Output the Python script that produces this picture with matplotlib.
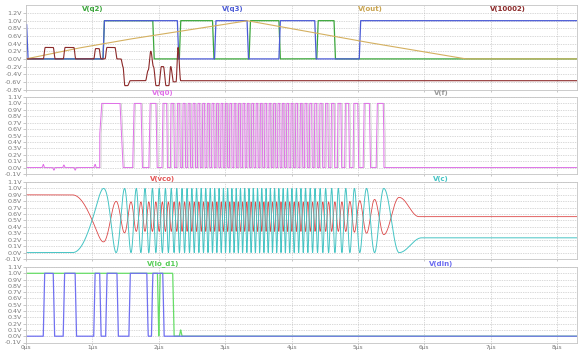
import numpy as np
import matplotlib
matplotlib.use("Agg")
import matplotlib.pyplot as plt

T_END = 8.3          # µs shown on the x axis
t = np.linspace(0, T_END, 30000)

# ---- pane 1 : divider outputs, ramp and control node ----
q2_spans = [(1.16, 1.91, 1.0), (2.31, 2.81, 1.0), (3.36, 3.81, 1.0), (4.38, 4.64, 1.0)]
q3_spans = [(-0.1, 0.01, 0.9), (1.16, 2.28, 1.0), (2.84, 3.33, 1.0),
            (3.81, 4.35, 1.0), (5.02, 8.4, 1.0)]
out_t = [0.0, 0.75, 1.5, 2.6, 3.33, 5.02, 6.62, T_END]
out_v = [0.0, 0.27, 0.5, 0.8, 1.0, 0.47, 0.0, 0.0]
n10002_t = [0, 0.26, 0.29, 0.41, 0.44, 0.56, 0.59, 0.72, 0.75, 1.02, 1.05, 1.10, 1.13,
            1.19, 1.22, 1.34, 1.37, 1.43, 1.46, 1.49, 1.53, 1.57, 1.80, 1.84, 1.88,
            1.92, 1.96, 2.00, 2.04, 2.07, 2.11, 2.15, 2.18, 2.22, 2.26, 2.29, 2.33, T_END]
n10002_v = [0, 0, 0.3, 0.3, 0, 0, 0.3, 0.3, 0, 0, 0.27, 0.27, 0,
            0, 0.3, 0.3, 0, 0, -0.2, -0.7, -0.7, -0.57, -0.57, -0.3, 0.2,
            -0.2, -0.7, -0.7, -0.2, -0.2, -0.7, -0.7, -0.2, -0.6, -0.6, 0.3, -0.57, -0.57]

# ---- pane 2 : q0 pulse train and f ----
q0_t = [1.11, 1.44, 1.61, 1.8, 1.95, 2.05, 2.15, 2.4, 3.0, 3.9, 4.3, 4.6, 4.9, 5.15, 5.39]
q0_f = [1.3, 1.7, 3.8, 4.2, 4.8, 6.0, 9.0, 13.0, 15.0, 15.0, 13.5, 10.5, 7.5, 5.0, 4.5]
q0_blip_t = [0, 0.24, 0.26, 0.28, 0.40, 0.42, 0.44, 0.55, 0.57, 0.59, 0.72, 0.74, 0.76,
             1.02, 1.04, 1.06, 1.09]
q0_blip_v = [0, 0, 0.05, 0, 0, -0.04, 0, 0, 0.04, 0, 0, -0.04, 0, 0, 0.05, 0, 0]
f_delay = 0.02

# ---- pane 3 : vco node and tank ----
vco_t = [0.70, 1.0, 1.19, 1.34, 1.46, 1.6, 1.8, 2.1, 2.5, 3.0, 3.8, 4.3, 4.6, 4.9, 5.1, 5.39]
vco_f = [0.7, 1.0, 2.0, 3.3, 4.2, 6.0, 8.5, 11.0, 14.0, 15.5, 15.5, 14.0, 10.5, 7.5, 4.5, 3.3]
vco_mid_t = [0.70, 1.19, 1.34, 1.6, 4.8, 5.39]
vco_mid_v = [0.50, 0.52, 0.54, 0.56, 0.56, 0.56]
vco_amp_v = [0.40, 0.35, 0.26, 0.23, 0.23, 0.28]
vco_tail_t = [5.39, 5.62, 5.92, T_END]
vco_tail_v = [0.28, 0.86, 0.56, 0.56]
c_tail_t = [5.39, 5.62, 5.96, T_END]
c_tail_v = [1.0, 0.0, 0.23, 0.23]

# ---- pane 4 : data in and lo_d1 ----
din_spans = [(0.26, 0.41, 1.0), (0.56, 0.74, 1.0), (1.02, 1.11, 1.0),
             (1.20, 1.37, 1.0), (1.55, 1.82, 1.0), (1.89, 2.06, 1.0)]
lo_spans = [(-0.1, 1.98, 1.0), (2.0, 2.21, 1.0), (2.31, 2.33, 0.1)]

x_labels = ["0µs", "1µs", "2µs", "3µs", "4µs", "5µs", "6µs", "7µs", "8µs"]


def pulses(spans, rise=0.02):
    v = np.zeros_like(t)
    for a, b, lvl in spans:
        v += lvl * (np.clip((t - a) / rise, 0, 1) - np.clip((t - b) / rise, 0, 1))
    return v


def ease(tk, vk, x):
    # cosine blend between key points, gives the rounded analog look
    tk = np.asarray(tk, float)
    vk = np.asarray(vk, float)
    i = np.clip(np.searchsorted(tk, x, side="right") - 1, 0, len(tk) - 2)
    s = np.clip((x - tk[i]) / (tk[i + 1] - tk[i]), 0, 1)
    return vk[i] + (vk[i + 1] - vk[i]) * (1 - np.cos(np.pi * s)) / 2


def cycles(kt, kf, t0, t1, end_frac):
    f = np.interp(t, kt, kf)
    ph = np.concatenate([[0], np.cumsum((f[1:] + f[:-1]) / 2 * np.diff(t))])
    ph -= np.interp(t0, t, ph)
    total = np.interp(t1, t, ph)
    target = np.floor(total - end_frac + 0.5) + end_frac
    return ph * target / total


# pane 1 traces
q2 = pulses(q2_spans)
q3 = pulses(q3_spans)
out = np.interp(t, out_t, out_v)
n10002 = ease(n10002_t, n10002_v, t)

# pane 2 traces
q0_ph = cycles(q0_t, q0_f, q0_t[0], q0_t[-1], 0.5)


def q0_wave(x_shift):
    tt = t - x_shift
    ph = np.interp(tt, t, q0_ph)
    sq = 0.5 + 0.5 * np.clip(4 * np.sin(2 * np.pi * ph), -1, 1)
    return np.where((tt >= q0_t[0]) & (tt <= q0_t[-1]), sq, 0.0)


q0 = q0_wave(0.0) + np.where(t < q0_t[0], ease(q0_blip_t, q0_blip_v, t), 0.0)
vf = q0_wave(f_delay)
vf[t < 0.01] = 1.0

# pane 3 traces
t0, t1 = vco_t[0], vco_t[-1]
ph = cycles(vco_t, vco_f, t0, t1, 0.5)
mid = np.interp(t, vco_mid_t, vco_mid_v)
amp = np.interp(t, vco_mid_t, vco_amp_v)
vco = np.where(t < t0, 0.9,
               np.where(t <= t1, mid + amp * np.cos(2 * np.pi * ph),
                        ease(vco_tail_t, vco_tail_v, t)))
vc = np.where(t < t0, 0.0,
              np.where(t <= t1, 0.5 - 0.5 * np.cos(2 * np.pi * ph),
                       ease(c_tail_t, c_tail_v, t)))

# pane 4 traces
din = pulses(din_spans)
lo = pulses(lo_spans)

# ---- figure ----
W, H = 578, 351
fig = plt.figure(figsize=(W / 100, H / 100), dpi=100)
L, R = 26 / W, 577 / W
panes = [(5, 89.5), (97, 174), (182, 259), (267, 342.5)]
axes = []
for k, (top, bot) in enumerate(panes):
    ax = fig.add_axes([L, 1 - bot / H, R - L, (bot - top) / H])
    ax.set_xlim(0, T_END)
    ax.set_xticks(range(9))
    if k == 0:
        ax.set_ylim(-0.8, 1.41)
        ticks = np.arange(-0.8, 1.21, 0.2)
    else:
        ax.set_ylim(-0.1, 1.1)
        ticks = np.arange(-0.1, 1.11, 0.1)
    ax.set_yticks(ticks)
    ax.set_yticklabels([f"{v:.1f}V".replace("-0.0", "0.0") for v in ticks])
    ax.grid(True, ls=(0, (1, 1.5)), color="#b4b4b4", lw=0.5)
    ax.tick_params(labelsize=4.6, labelcolor="#7a7a7a", color="#b0b0b0",
                   length=2, width=0.5, pad=1)
    ax.tick_params(axis="x", labelsize=4.2, pad=0.5, length=1.5)
    for sp in ax.spines.values():
        sp.set_color("#c4c4c4")
        sp.set_linewidth(0.6)
    if k < 3:
        ax.set_xticklabels([])
    else:
        ax.set_xticklabels(x_labels)
    axes.append(ax)

ax1, ax2, ax3, ax4 = axes
lw = 0.9
ax1.plot(t, q2, color="#3aa63a", lw=lw)
ax1.plot(t, q3, color="#4b5bd6", lw=lw)
ax1.plot(t, out, color="#d4b060", lw=0.8)
ax1.plot(t, n10002, color="#8c2a2a", lw=0.8)

ax2.plot(t, vf, color="#c4c4c4", lw=0.5)
ax2.plot(t, q0, color="#e070e8", lw=0.7)

ax3.plot(t, vco, color="#dc4848", lw=0.6)
ax3.plot(t, vc, color="#45c4c4", lw=0.7)

ax4.plot(t, lo, color="#66dd66", lw=lw)
ax4.plot(t, din, color="#7070f0", lw=lw)

# trace names above each pane
names = [
    (93, 9, "V(q2)", "#3aa63a"), (233, 9, "V(q3)", "#4b5bd6"),
    (370, 9, "V(out)", "#c9a450"), (508, 9, "V(10002)", "#8c2a2a"),
    (163, 93.5, "V(q0)", "#e070e8"), (441, 93.5, "V(f)", "#999999"),
    (163, 179, "V(vco)", "#e25555"), (441, 179, "V(c)", "#45c4c4"),
    (163, 264, "V(lo_d1)", "#55cc55"), (441, 264, "V(din)", "#6a6af0"),
]
for x, y, s, c in names:
    fig.text(x / W, 1 - y / H, s, color=c, fontsize=5, fontweight="bold",
             ha="center", va="center")

fig.savefig("out.png", dpi=100, facecolor="white")
